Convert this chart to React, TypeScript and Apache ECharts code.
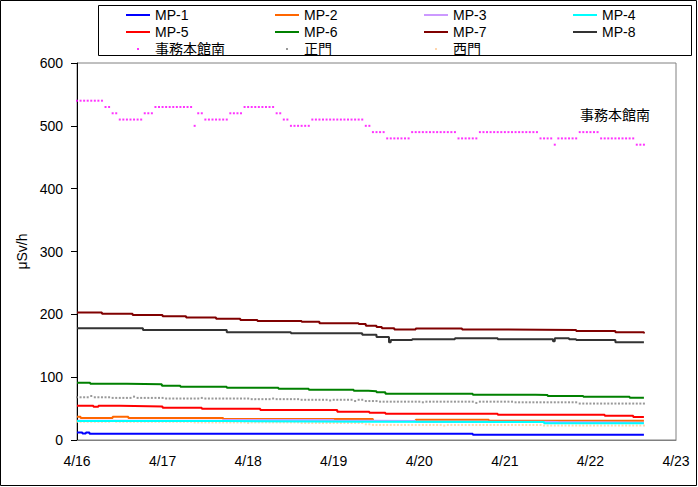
import { useEffect, useRef } from "react";
import * as echarts from "echarts";

// x axis: hours since 4/16 00:00
const dayLabels = ["4/16", "4/17", "4/18", "4/19", "4/20", "4/21", "4/22", "4/23"];

// line series: [hour, value] change points (value held until next point)
const mp1 = [[0, 12], [1.5, 10.5], [2.5, 12], [3.5, 10], [111, 8.5], [159, 8.5]];
const mp2 = [[0, 37], [1, 35], [10, 37], [14.4, 35], [41, 33.4], [83, 30.2], [95, 32.3], [115.5, 30.7], [159, 30.7]];
const mp3 = [[0, 30.5], [41, 31.8], [72, 30.5], [84, 30.2], [95, 29], [130, 28.5], [135, 27.5], [159, 27.5]];
const mp4 = [[0, 30.2], [41, 29.2], [82, 28.6], [131, 26.5], [159, 26.5]];
const mp5 = [[0, 54.6], [4.6, 53.1], [6, 54.6], [12, 53.5], [24, 51.4], [35, 49.8], [51.4, 47.7], [73, 45], [82, 43.5], [86.5, 41.9], [118, 40.3], [148, 38.7], [156, 36.6], [159, 36.6]];
const mp6 = [[0, 91.2], [3.7, 89.6], [14, 88.6], [23.8, 86.5], [29, 84.9], [42, 83.3], [56.5, 81.7], [65, 80.1], [77.6, 78.5], [81.7, 77.5], [84, 75.9], [86.5, 73.7], [111, 72.1], [128.6, 71.6], [132, 70.2], [142, 69], [155, 67.4], [159, 67.4]];
const mp7 = [[0, 203], [7, 201], [15.6, 199], [24, 197], [30.6, 195], [39, 193], [45.8, 191], [50.6, 189.5], [63, 188], [68, 186], [79, 184.5], [81, 182], [84, 180], [85.5, 178], [89, 176], [95, 177.5], [108, 176], [119, 175], [140, 173.5], [151, 171.5], [159, 169.5]];
const mp8 = [[0, 178], [18.5, 175], [42, 171.5], [60, 170], [80, 167.7], [84, 164], [87.5, 155.5], [88, 159], [94, 160.5], [106, 162], [118, 160.5], [133.5, 157], [134, 162], [138, 160.5], [140, 159], [151, 155.5], [159, 155.5]];

// hourly point series, run-length encoded: [value, number of hours]
const jimuRuns = [[540, 8], [530, 2], [520, 2], [510, 7], [520, 3], [530, 11], [500, 1], [520, 2], [510, 7], [520, 4], [530, 9], [520, 2], [510, 2], [500, 6], [510, 15], [500, 2], [490, 4], [480, 7], [490, 13], [480, 6], [490, 17], [480, 4], [470, 1], [480, 6], [490, 6], [480, 10], [470, 3]];
const seimonRuns = [[68, 4], [70, 1], [68, 5], [67, 6], [69, 1], [67, 8], [66, 10], [67, 1], [66, 13], [65, 6], [66, 1], [65, 7], [64, 8], [63, 1], [64, 6], [62, 1], [64, 2], [62, 4], [61, 12], [60, 1], [61, 14], [59, 1], [61, 10], [60, 18], [58, 19]];
const nishimonRuns = [[29, 10], [30, 1], [29, 22], [28, 15], [27, 1], [28, 14], [27, 18], [25, 2], [24, 20], [23, 1], [24, 27], [23, 29]];

const lineNames = ["MP-1", "MP-2", "MP-3", "MP-4", "MP-5", "MP-6", "MP-7", "MP-8"];
const lineData = [mp1, mp2, mp3, mp4, mp5, mp6, mp7, mp8];
const lineColors = ["#0000FF", "#FF6600", "#CC99FF", "#00FFFF", "#FF0000", "#008000", "#800000", "#333333"];
const pointNames = ["事務本館南", "正門", "西門"];
const pointRuns = [jimuRuns, seimonRuns, nishimonRuns];
const pointColors = ["#FF00FF", "#808080", "#FFCC99"];

const legendCols = [
  ["MP-1", "MP-5", "事務本館南"],
  ["MP-2", "MP-6", "正門"],
  ["MP-3", "MP-7", "西門"],
  ["MP-4", "MP-8"],
];
const legendLefts = [121, 270, 419, 568];

function expandRuns(runs: number[][]) {
  const out: number[][] = [];
  let h = 0;
  for (const [v, n] of runs) {
    for (let i = 0; i < n; i++) {
      out.push([h, v]);
      h++;
    }
  }
  return out;
}

const FONT = "'Liberation Sans', 'Noto Sans CJK JP', sans-serif";

export default function App() {
  const ref = useRef<HTMLDivElement>(null);
  useEffect(() => {
    document.body.style.margin = "0";
    const chart = echarts.init(ref.current!, null, { renderer: "svg" });
    const lineIcon = "path://M0,0H24V2H0Z";
    const dotIcon = "path://M0,0H2V2H0Z";
    const series: any[] = [];
    lineNames.forEach((n, i) => {
      series.push({
        name: n,
        type: "line",
        data: lineData[i],
        step: "end",
        symbol: "none",
        showSymbol: false,
        color: lineColors[i],
        itemStyle: { color: lineColors[i] },
        lineStyle: { color: lineColors[i], width: 2 },
        silent: true,
      });
    });
    pointNames.forEach((n, i) => {
      series.push({
        name: n,
        type: "scatter",
        data: expandRuns(pointRuns[i]),
        symbol: "rect",
        symbolSize: [2, 2],
        color: pointColors[i],
        itemStyle: { color: pointColors[i] },
        silent: true,
      });
    });
    chart.setOption({
      animation: false,
      textStyle: { fontFamily: FONT, color: "#000" },
      grid: {
        left: 77,
        right: 22,
        top: 63,
        bottom: 47,
        show: true,
        borderColor: "#808080",
        borderWidth: 1,
        backgroundColor: "transparent",
      },
      legend: legendCols.map((col, ci) => ({
        orient: "vertical",
        left: legendLefts[ci],
        top: 3,
        itemWidth: 24,
        itemHeight: 2,
        itemGap: 3,
        selectedMode: false,
        textStyle: { fontFamily: FONT, fontSize: 14, color: "#000", lineHeight: 14 },
        itemStyle: { borderWidth: 0 },
        data: col.map((n) => ({ name: n, icon: pointNames.includes(n) ? dotIcon : lineIcon })),
      })),
      xAxis: {
        type: "value",
        min: 0,
        max: 168,
        interval: 24,
        axisLine: { lineStyle: { color: "#808080", width: 1 } },
        axisTick: { show: false },
        splitLine: { show: false },
        axisLabel: {
          margin: 14,
          fontSize: 14,
          color: "#000",
          fontFamily: FONT,
          showMinLabel: true,
          showMaxLabel: true,
          formatter: (v: number) => dayLabels[Math.round(v / 24)] ?? "",
        },
      },
      yAxis: {
        type: "value",
        min: 0,
        max: 600,
        interval: 100,
        name: "μSv/h",
        nameLocation: "middle",
        nameGap: 42,
        nameRotate: 90,
        nameTextStyle: { fontSize: 14, color: "#000", fontFamily: FONT },
        axisLine: { show: true, lineStyle: { color: "#000", width: 1 } },
        axisTick: { show: true, inside: false, length: 6, lineStyle: { color: "#000" } },
        splitLine: { show: false },
        axisLabel: { margin: 14, fontSize: 14, color: "#000", fontFamily: FONT },
      },
      graphic: [
        {
          type: "rect",
          z: -10,
          silent: true,
          shape: { x: 0.5, y: 0.5, width: 696, height: 485 },
          style: { fill: "#fff", stroke: "#000", lineWidth: 1 },
        },
        {
          type: "rect",
          z: -5,
          silent: true,
          shape: { x: 98.5, y: 5.5, width: 593, height: 50 },
          style: { fill: "#fff", stroke: "#000", lineWidth: 1 },
        },
        {
          type: "text",
          left: 580,
          top: 108,
          silent: true,
          style: { text: "事務本館南", fontSize: 14, fontFamily: FONT, fill: "#000" },
        },
      ],
      series,
    });
    return () => chart.dispose();
  }, []);
  return <div ref={ref} style={{ width: 698, height: 487 }} />;
}
